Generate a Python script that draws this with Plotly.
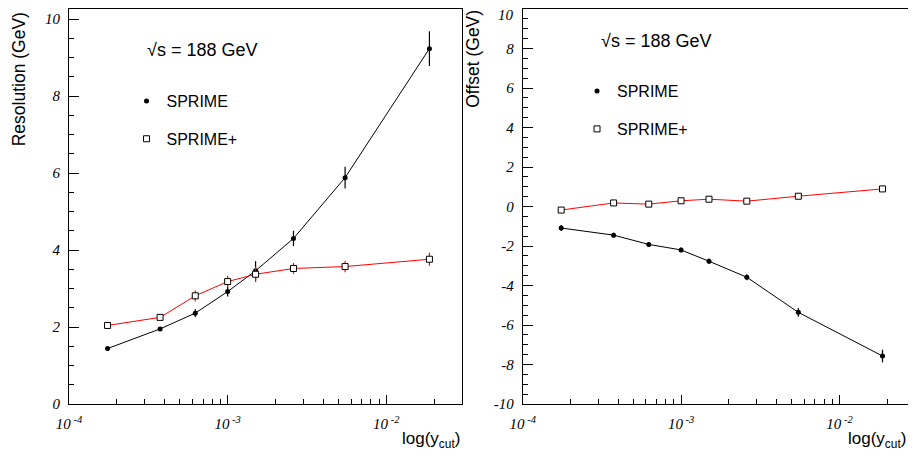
import plotly.graph_objects as go
from plotly.subplots import make_subplots

# ---- data ----
ycut = [1.75e-4, 3.75e-4, 6.25e-4, 1.0e-3, 1.5e-3, 2.6e-3, 5.5e-3, 1.87e-2]

res_sprime = [1.44, 1.95, 2.36, 2.92, 3.46, 4.30, 5.88, 9.23]
res_sprime_err = [0.03, 0.05, 0.10, 0.13, 0.25, 0.20, 0.28, 0.45]
res_sprimep = [2.04, 2.25, 2.81, 3.18, 3.37, 3.52, 3.57, 3.76]
res_sprimep_err = [0.04, 0.06, 0.14, 0.15, 0.20, 0.14, 0.15, 0.17]

off_sprime = [-1.09, -1.45, -1.92, -2.20, -2.77, -3.58, -5.36, -7.57]
off_sprime_err = [0.15, 0.12, 0.12, 0.12, 0.14, 0.15, 0.22, 0.32]
off_sprimep = [-0.18, 0.18, 0.12, 0.29, 0.37, 0.27, 0.52, 0.89]
off_sprimep_err = [0.08, 0.06, 0.08, 0.08, 0.10, 0.08, 0.08, 0.10]

x_tickvals = [1e-4, 1e-3, 1e-2]
x_ticktext = ["10<sup> -4</sup>", "10<sup> -3</sup>", "10<sup> -2</sup>"]
res_tickvals = [0, 2, 4, 6, 8, 10]
off_tickvals = [-10, -8, -6, -4, -2, 0, 2, 4, 6, 8, 10]
off_top = 10  # top label of the offset axis, drawn just inside the page edge

SANS = "Liberation Sans, Arial, sans-serif"
SERIF = "Liberation Serif, Times New Roman, serif"

fig = make_subplots(rows=1, cols=2, horizontal_spacing=0.07)

def add_series(row, col, y_black, e_black, y_red, e_red, legend):
    fig.add_trace(go.Scatter(
        x=ycut, y=y_black, mode="lines+markers", showlegend=False,
        line=dict(color="black", width=1),
        marker=dict(symbol="circle", size=5, color="black"),
        error_y=dict(type="data", array=e_black, color="black", thickness=1.2, width=0),
    ), row=row, col=col)
    fig.add_trace(go.Scatter(
        x=ycut, y=y_red, mode="lines+markers", showlegend=False,
        line=dict(color="red", width=1),
        marker=dict(symbol="square", size=6, color="white", line=dict(color="black", width=1)),
        error_y=dict(type="data", array=e_red, color="red", thickness=1.2, width=0),
    ), row=row, col=col)
    fig.add_trace(go.Scatter(
        x=[None], y=[None], mode="markers", name="SPRIME", legend=legend, legendgroup=legend + "a",
        marker=dict(symbol="circle", size=5, color="black"),
    ), row=row, col=col)
    fig.add_trace(go.Scatter(
        x=[None], y=[None], mode="markers", name="SPRIME+", legend=legend, legendgroup=legend + "b",
        marker=dict(symbol="square", size=6, color="white", line=dict(color="black", width=1)),
    ), row=row, col=col)

add_series(1, 1, res_sprime, res_sprime_err, res_sprimep, res_sprimep_err, "legend")
add_series(1, 2, off_sprime, off_sprime_err, off_sprimep, off_sprimep_err, "legend2")

tickfont = dict(family=SERIF, size=15, color="black", style="italic")

xaxis_common = dict(
    type="log", range=[-4, -1.523], automargin=False, ticklabeloverflow="allow",
    tickmode="array", tickvals=x_tickvals, ticktext=x_ticktext, ticklabelstandoff=6,
    ticks="inside", ticklen=9, tickwidth=1, tickcolor="black",
    showline=True, linecolor="black", linewidth=1, mirror=True,
    showgrid=False, zeroline=False,
    tickfont=tickfont,
    minor=dict(ticks="inside", ticklen=5, tickwidth=1, tickcolor="black", dtick="D1", showgrid=False),
)

def yaxis_common(vals, rng, hide=None):
    return dict(
        range=rng, automargin=False, ticklabeloverflow="allow", ticklabelstandoff=5,
        tickmode="array", tickvals=vals,
        ticktext=["" if v == hide else str(v) for v in vals],
        ticks="inside", ticklen=10, tickwidth=1, tickcolor="black",
        showline=True, linecolor="black", linewidth=1, mirror=True,
        showgrid=False, zeroline=False,
        tickfont=tickfont,
        minor=dict(tickmode="linear", tick0=0, dtick=0.5, ticks="inside", ticklen=5,
                   tickwidth=1, tickcolor="black", showgrid=False),
    )

# page has an 8px body margin; figure is sized so its content lands at the reference positions
fig.update_layout(
    width=908, height=449,
    margin=dict(l=61, r=1, t=1, b=53),
    paper_bgcolor="white", plot_bgcolor="white",
    xaxis=dict(domain=[0.0, 0.4645], **xaxis_common),
    xaxis2=dict(domain=[0.5363, 1.0], **xaxis_common),
    yaxis=yaxis_common(res_tickvals, [0, 10.26]),
    yaxis2=yaxis_common(off_tickvals, [-10, 10], hide=off_top),
    legend=dict(x=0.068, y=0.81, xanchor="left", yanchor="top", bgcolor="rgba(0,0,0,0)",
                font=dict(family=SANS, size=16, color="black"),
                traceorder="grouped", tracegroupgap=14, itemwidth=30),
    legend2=dict(x=0.6005, y=0.835, xanchor="left", yanchor="top", bgcolor="rgba(0,0,0,0)",
                 font=dict(family=SANS, size=16, color="black"),
                 traceorder="grouped", tracegroupgap=14, itemwidth=30),
    annotations=[
        dict(text=str(off_top), xref="x2 domain", yref="y2", x=0, y=off_top,
             xanchor="right", yanchor="top", xshift=-7, yshift=4, showarrow=False,
             font=tickfont),
        dict(text="√s = 188 GeV", xref="paper", yref="paper", x=0.0898, y=0.896,
             xanchor="left", yanchor="middle", showarrow=False,
             font=dict(family=SANS, size=18, color="black")),
        dict(text="√s = 188 GeV", xref="paper", yref="paper", x=0.6265, y=0.919,
             xanchor="left", yanchor="middle", showarrow=False,
             font=dict(family=SANS, size=18, color="black")),
        dict(text="Resolution (GeV)", xref="paper", yref="paper", x=-0.059, y=0.997,
             xanchor="center", yanchor="top", textangle=-90, showarrow=False,
             font=dict(family=SANS, size=17.5, color="black")),
        dict(text="Offset (GeV)", xref="paper", yref="paper", x=0.4775, y=1.003,
             xanchor="center", yanchor="top", textangle=-90, showarrow=False,
             font=dict(family=SANS, size=17.5, color="black")),
        dict(text="log(y<sub>cut</sub>)", xref="paper", yref="paper", x=0.4645, y=-0.091,
             xanchor="right", yanchor="middle", showarrow=False,
             font=dict(family=SANS, size=17, color="black")),
        dict(text="log(y<sub>cut</sub>)", xref="paper", yref="paper", x=0.992, y=-0.091,
             xanchor="right", yanchor="middle", showarrow=False,
             font=dict(family=SANS, size=17, color="black")),
    ],
)

fig.write_html("out.html")
